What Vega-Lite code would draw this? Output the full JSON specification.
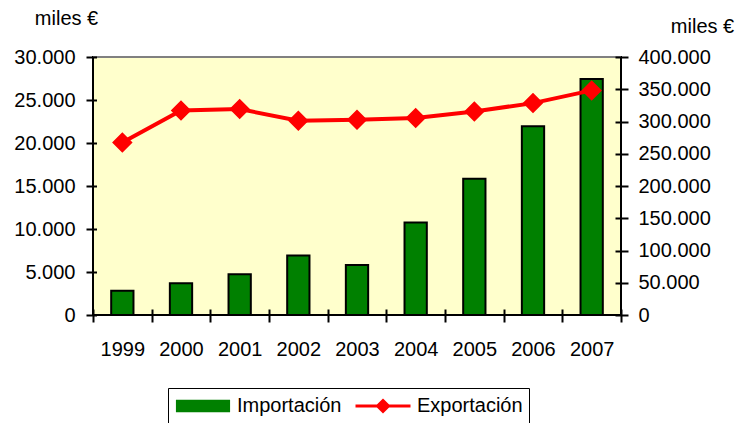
{
  "$schema": "https://vega.github.io/schema/vega-lite/v6.json",
  "width": 528,
  "height": 258,
  "autosize": {"type": "none"},
  "padding": {"left": 93, "top": 57, "right": 118, "bottom": 108},
  "background": "white",
  "config": {
    "font": "Liberation Sans",
    "locale": {"number": {"decimal": ",", "thousands": ".", "grouping": [3], "currency": ["", " €"]}},
    "view": {"fill": "#FFFFCC", "stroke": "black", "strokeWidth": 2},
    "axis": {
      "domain": false, "tickColor": "black", "tickWidth": 2,
      "labelFont": "Liberation Sans", "labelFontSize": 20, "labelColor": "black", "grid": false, "labelOverlap": false,
      "titleFont": "Liberation Sans", "titleFontSize": 20, "titleFontWeight": "normal", "titleColor": "black"
    },
    "legend": {
      "orient": "none", "legendX": 75, "legendY": 331, "direction": "horizontal",
      "strokeColor": "black", "padding": 6,
      "labelFont": "Liberation Sans", "labelFontSize": 20, "labelColor": "black",
      "symbolSize": 3025, "clipHeight": 24, "labelOffset": 5, "columnPadding": 12, "symbolStrokeWidth": 3
    }
  },
  "data": {"values": [
    {"year": "1999", "imp": 2830, "exp": 267500},
    {"year": "2000", "imp": 3700, "exp": 317200},
    {"year": "2001", "imp": 4730, "exp": 319250},
    {"year": "2002", "imp": 6920, "exp": 301200},
    {"year": "2003", "imp": 5810, "exp": 302800},
    {"year": "2004", "imp": 10770, "exp": 305300},
    {"year": "2005", "imp": 15850, "exp": 315650},
    {"year": "2006", "imp": 21960, "exp": 328500},
    {"year": "2007", "imp": 27450, "exp": 348200}
  ]},
  "layer": [
    {
      "mark": {"type": "bar", "width": {"band": 0.38}, "stroke": "black", "strokeWidth": 2},
      "encoding": {
        "x": {"field": "year", "type": "ordinal",
          "scale": {"paddingInner": 0, "paddingOuter": 0},
          "axis": {"title": null, "labelAngle": 0, "tickBand": "extent", "labelBaseline": "alphabetic",
            "offset": -6, "tickSize": 13, "labelPadding": 33}},
        "y": {"field": "imp", "type": "quantitative",
          "scale": {"domain": [0, 30000]},
          "axis": {"values": [0, 5000, 10000, 15000, 20000, 25000, 30000], "format": ",d",
            "offset": -3.5, "tickSize": 10.5, "labelPadding": 11,
            "title": "miles €", "titleAngle": 0, "titleAlign": "center", "titleBaseline": "alphabetic",
            "titleX": -30.5, "titleY": -33}},
        "color": {"datum": "Importación", "type": "nominal",
          "scale": {"domain": ["Importación", "Exportación"], "range": ["#008000", "#FF0000"]},
          "legend": {"title": null}}
      }
    },
    {
      "encoding": {
        "x": {"field": "year", "type": "ordinal",
          "axis": {"orient": "top", "domain": true, "domainColor": "#808080", "domainWidth": 2, "translate": 0,
            "ticks": false, "labels": false, "title": null}},
        "y": {"field": "exp", "type": "quantitative",
          "scale": {"domain": [0, 400000]},
          "axis": {"orient": "right", "values": [0, 50000, 100000, 150000, 200000, 250000, 300000, 350000, 400000],
            "format": ",d", "offset": -6, "tickSize": 13, "labelPadding": 10,
            "title": "miles €", "titleAngle": 0, "titleAlign": "center", "titleBaseline": "alphabetic",
            "titleX": 87, "titleY": -25}},
        "color": {"datum": "Exportación", "type": "nominal", "legend": {"title": null}}
      },
      "layer": [
        {"mark": {"type": "line", "strokeWidth": 4}},
        {
          "mark": {"type": "point", "filled": true, "size": 10506, "opacity": 1},
          "encoding": {
            "shape": {"datum": "Exportación", "type": "nominal",
              "scale": {"domain": ["Importación", "Exportación"],
                "range": ["M-0.93,-0.17H0.93V0.17H-0.93Z", "M-1,0H1M0,-0.2L0.2,0L0,0.2L-0.2,0Z"]},
              "legend": {"title": null}}
          }
        }
      ]
    }
  ],
  "resolve": {"scale": {"y": "independent"}, "axis": {"x": "independent"}}
}
